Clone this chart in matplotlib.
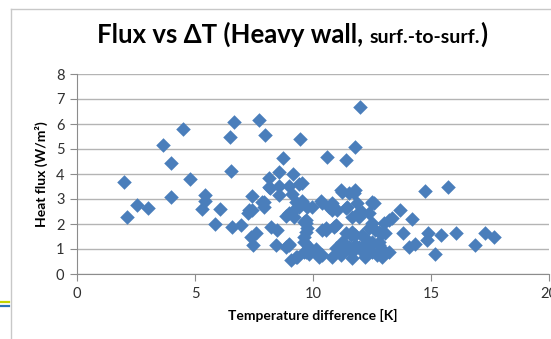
import matplotlib
matplotlib.use('Agg')
import matplotlib.pyplot as plt
from matplotlib.lines import Line2D

# temperature difference [K] and heat flux [W/m2]
delta_t = [
    2.0, 2.1, 2.55, 3.0, 3.63, 3.98, 3.98, 4.51, 4.78, 5.44, 5.41, 5.29,
    6.06, 5.85, 6.58, 6.47, 6.67, 6.51, 6.95, 7.23, 7.41, 7.4, 7.44, 7.58,
    7.37, 7.72, 7.96, 7.93, 7.93, 8.21, 8.49, 8.14, 8.17, 8.57, 8.57, 8.57,
    8.71, 8.99, 9.17, 9.41, 9.45, 8.99, 8.85, 9.27, 8.42, 8.99, 9.06, 9.34,
    9.83, 9.13, 9.52, 9.41, 9.69, 9.76, 9.62, 9.83, 9.69, 10.11, 10.25,
    10.32, 10.39, 9.97, 9.76, 9.69, 10.39, 10.53, 10.6, 10.68, 10.81, 10.81,
    10.89, 10.96, 10.53, 10.96, 11.03, 11.17, 11.17, 11.24, 11.38, 11.4,
    11.38, 11.31, 11.38, 11.52, 11.52, 11.66, 11.66, 11.66, 11.66, 11.73,
    11.8, 11.8, 11.8, 11.87, 11.94, 11.94, 11.98, 11.94, 12.08, 12.08,
    12.08, 12.15, 12.22, 12.22, 12.36, 12.36, 12.5, 12.5, 12.5, 12.6,
    12.64, 12.71, 12.78, 12.92, 12.92, 13.0, 13.07, 13.07, 13.2, 13.35,
    13.67, 13.83, 14.05, 14.19, 14.33, 14.76, 15.71, 14.89, 14.82, 15.41,
    16.04, 15.15, 16.86, 17.29, 17.68, 9.27, 9.2, 9.62, 9.69, 9.62, 9.62,
    9.27, 10.81, 11.45, 12.5, 12.36, 12.78, 11.59, 11.24, 11.8, 12.78,
    13.2, 11.1, 10.39, 12.5, 8.99, 7.86, 7.3, 8.14, 9.55, 8.85,
]
heat_flux = [
    3.7, 2.3, 2.77, 2.65, 5.16, 4.45, 3.08, 5.79, 3.79, 3.17, 2.93, 2.6,
    2.59, 1.99, 1.87, 5.49, 6.07, 4.13, 1.96, 2.43, 2.56, 3.12, 1.16, 1.63,
    1.49, 6.17, 5.55, 2.89, 2.69, 1.89, 1.76, 3.85, 3.45, 3.52, 3.16, 4.08,
    4.66, 3.52, 4.01, 3.6, 5.42, 2.43, 2.32, 2.63, 1.16, 1.2, 0.56, 0.69,
    0.79, 3.2, 2.93, 2.69, 2.16, 1.83, 1.49, 1.09, 0.89, 1.01, 0.69,
    2.93, 2.83, 2.69, 2.69, 2.03, 1.76, 1.76, 4.69, 2.69, 2.83, 0.69,
    1.89, 1.96, 1.83, 1.03, 2.56, 0.76, 3.36, 3.29, 2.63, 4.56,
    1.63, 1.23, 1.01, 1.09, 3.23, 2.29, 1.69, 0.87, 0.63, 3.23,
    5.07, 3.36, 1.56, 2.83, 2.49, 2.29, 6.68, 1.09, 1.09, 1.56,
    2.49, 0.83, 1.43, 0.69, 2.43, 1.09, 2.83, 2.03, 1.29, 2.85,
    1.76, 0.76, 1.29, 0.69, 1.63, 2.03, 1.63, 0.89, 2.16, 2.23,
    2.56, 1.63, 1.09, 2.21, 1.19, 3.33, 3.48, 1.65, 1.38, 1.58,
    1.63, 0.79, 1.18, 1.64, 1.47, 2.89, 2.29, 2.09, 1.69, 1.29, 0.89,
    0.69, 2.56, 2.69, 2.89, 1.83, 1.69, 1.56, 1.29, 1.16, 1.16,
    0.89, 0.89, 0.76, 0.89, 1.16, 2.89, 2.56, 3.49, 3.63, 1.09,
]
x_ticks = [0, 5, 10, 15, 20]
y_ticks = [0, 1, 2, 3, 4, 5, 6, 7, 8]

W, H = 551, 339
FONT = ['Lato', 'DejaVu Sans']
GRID = '#b4b4b4'
AXIS = '#8c8c8c'

fig = plt.figure(figsize=(W / 100, H / 100), dpi=100)
fig.patch.set_facecolor('white')

# slide frame and the little coloured stubs at the left edge
fig.add_artist(Line2D([11 / W, 11 / W], [0, 1 - 9 / H], transform=fig.transFigure,
                      color='#c8c8c8', lw=1))
fig.add_artist(Line2D([11 / W, 1], [1 - 9 / H, 1 - 9 / H], transform=fig.transFigure,
                      color='#c8c8c8', lw=1))
fig.add_artist(Line2D([0, 9 / W], [1 - 302 / H] * 2, transform=fig.transFigure,
                      color='#c3d400', lw=1.6))
fig.add_artist(Line2D([0, 9 / W], [1 - 306 / H] * 2, transform=fig.transFigure,
                      color='#2a72b8', lw=1.6))

ax = fig.add_axes([77 / W, 1 - 274 / H, (549 - 77) / W, 200 / H])
ax.scatter(delta_t, heat_flux, marker='D', s=55, color='#4a7ebb',
           linewidths=0, zorder=3, clip_on=False)

ax.set_xlim(0, 20)
ax.set_ylim(0, 8)
ax.set_xticks(x_ticks)
ax.set_yticks(y_ticks)
ax.yaxis.grid(True, color=GRID, lw=1)
ax.set_axisbelow(True)
for side in ['top', 'right']:
    ax.spines[side].set_visible(False)
for side in ['left', 'bottom']:
    ax.spines[side].set_color(AXIS)
ax.tick_params(direction='out', length=5, color=AXIS, labelcolor='#303030',
               labelsize=10.5, pad=4)
for lbl in ax.get_xticklabels() + ax.get_yticklabels():
    lbl.set_family(FONT)

ax.set_xlabel('Temperature difference [K]', fontsize=10, fontweight='bold',
              family=FONT, labelpad=6)
ax.set_ylabel('Heat flux (W/m²)', fontsize=10, fontweight='bold',
              family=FONT, labelpad=6)

# title in three runs: big bold, smaller bold, big bold
fig.canvas.draw()
renderer = fig.canvas.get_renderer()
parts = [('Flux vs ΔT (Heavy wall, ', 18.5), ('surf.-to-surf.', 14), (')', 18.5)]
texts = []
x = 0
for s, size in parts:
    t = fig.text(x, 1 - 43 / H, s, fontsize=size, fontweight='bold',
                 family=FONT, va='baseline', ha='left', color='black')
    texts.append(t)
    x += t.get_window_extent(renderer).width / W
total = x
start = (292 / W) - total / 2
x = start
for t in texts:
    t.set_x(x)
    x += t.get_window_extent(renderer).width / W

fig.savefig('out.png', dpi=100)
